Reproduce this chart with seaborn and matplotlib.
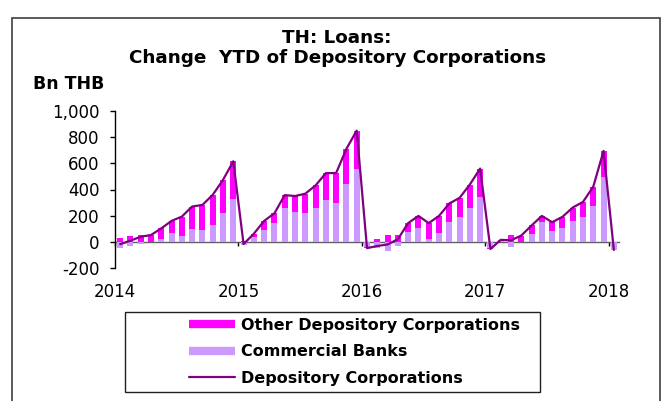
import numpy as np
import pandas as pd
import matplotlib
matplotlib.use("Agg")
import matplotlib.pyplot as plt
from matplotlib.lines import Line2D
from matplotlib.patches import Rectangle
import seaborn as sns

# ---- data (Bn THB, change year-to-date), Jan 2014 .. Jan 2018 ----
months = pd.date_range("2014-01-01", "2018-01-01", freq="MS")
commercial_banks = [
    -50, -35, -17, -4, 20, 64, 46, 97, 94, 132, 219, 331,
    -22, 34, 90, 141, 261, 230, 218, 261, 319, 299, 439, 553,
    -40, -50, -70, -32, 76, 102, 25, 71, 148, 193, 262, 344,
    -48, 10, -43, 2, 62, 153, 84, 104, 158, 188, 272, 497,
    -64,
]
other_depository = [
    32, 44, 56, 56, 83, 96, 147, 173, 188, 227, 254, 285,
    5, 28, 70, 77, 96, 120, 150, 170, 206, 227, 272, 297,
    -8, 18, 50, 52, 67, 96, 118, 127, 145, 143, 176, 216,
    -7, 5, 55, 46, 63, 45, 66, 87, 104, 117, 150, 198,
    2,
]
year_labels = ["2014", "2015", "2016", "2017", "2018"]
y_ticks = [-200, 0, 200, 400, 600, 800, 1000]
y_tick_labels = ["-200", "0", "200", "400", "600", "800", "1,000"]

cb = np.array(commercial_banks, dtype=float)
odc = np.array(other_depository, dtype=float)
total = cb + odc
df = pd.DataFrame({"month": months, "pos": np.arange(len(months)),
                   "cb": cb, "odc": odc, "total": total})

# Excel-style stacking: positives stack up from 0, negatives down from 0
odc_bottom = np.where(odc >= 0, np.maximum(cb, 0), np.minimum(cb, 0))

C_ODC = "#FF00FF"
C_CB = "#CC99FF"
C_LINE = "#800080"

sns.set_theme(style="white")
plt.rcParams["font.family"] = ["DejaVu Sans"]
plt.rcParams["text.color"] = "black"
plt.rcParams["xtick.color"] = "black"
plt.rcParams["ytick.color"] = "black"
plt.rcParams["axes.labelcolor"] = "black"

fig = plt.figure(figsize=(6.69, 4.01), dpi=100)
fig.patch.set_facecolor("white")
ax = fig.add_axes([115 / 669, 1 - 268 / 401, (619 - 115) / 669, (268 - 111) / 401])

bw = 0.57
ax.bar(df["pos"], df["cb"], width=bw, color=C_CB, linewidth=0, zorder=2)
ax.bar(df["pos"], df["odc"], bottom=odc_bottom, width=bw, color=C_ODC,
       linewidth=0, zorder=2)
sns.lineplot(data=df, x="pos", y="total", ax=ax, color=C_LINE, linewidth=1.6,
             zorder=3)

ax.set_xlim(-0.5, len(months) - 0.5)
ax.set_ylim(-200, 1000)
ax.set_xlabel("")
ax.set_ylabel("")

ax.set_yticks(y_ticks)
ax.set_yticklabels(y_tick_labels)
ax.set_xticks(np.arange(0, len(months), 12) - 0.5)
ax.set_xticklabels(year_labels)

for s in ["top", "right"]:
    ax.spines[s].set_visible(False)
ax.spines["left"].set_color("black")
ax.spines["left"].set_linewidth(1)
ax.spines["bottom"].set_position(("data", 0))
ax.spines["bottom"].set_color("#606060")
ax.spines["bottom"].set_linewidth(1)
ax.spines["bottom"].set_zorder(1)

ax.tick_params(axis="y", direction="out", length=3.5, width=1, color="black",
               labelcolor="black", labelsize=12, pad=7.5, left=True)
ax.tick_params(axis="x", direction="out", length=3, width=1, color="black",
               labelcolor="black", labelsize=12, pad=26.5, bottom=True)
ax.grid(False)
ax.set_facecolor("none")

# titles
fig.text(0.504, 1 - 38 / 401, "TH: Loans:", ha="center", va="center",
         fontsize=13.2, fontweight="bold", color="black")
fig.text(0.504, 1 - 58 / 401, "Change  YTD of Depository Corporations",
         ha="center", va="center", fontsize=13.2, fontweight="bold",
         color="black")
fig.text(33 / 669, 1 - 84 / 401, "Bn THB", ha="left", va="center",
         fontsize=12.5, fontweight="bold", color="black")

# outer frame
fig.patches.append(Rectangle((12 / 669, -0.02), (660 - 12) / 669,
                             1 - 18 / 401 + 0.02, transform=fig.transFigure,
                             fill=False, edgecolor="#404040", linewidth=1.2))
# legend frame
fig.patches.append(Rectangle((125 / 669, 1 - 392 / 401), (540 - 125) / 669,
                             (392 - 312) / 401, transform=fig.transFigure,
                             fill=False, edgecolor="#202020", linewidth=1))

handles = [
    Line2D([], [], color=C_ODC, linewidth=6, solid_capstyle="butt"),
    Line2D([], [], color=C_CB, linewidth=6, solid_capstyle="butt"),
    Line2D([], [], color=C_LINE, linewidth=1.6),
]
labels = ["Other Depository Corporations", "Commercial Banks",
          "Depository Corporations"]
leg = fig.legend(handles, labels, loc="upper left",
                 bbox_to_anchor=(176 / 669, 1 - 305 / 401), frameon=False,
                 prop={"weight": "bold", "size": 11.5}, handlelength=2.9,
                 handletextpad=0.35, labelspacing=0.72, borderpad=0.3)
for t in leg.get_texts():
    t.set_color("black")

fig.savefig("out.png", dpi=100, facecolor="white")
